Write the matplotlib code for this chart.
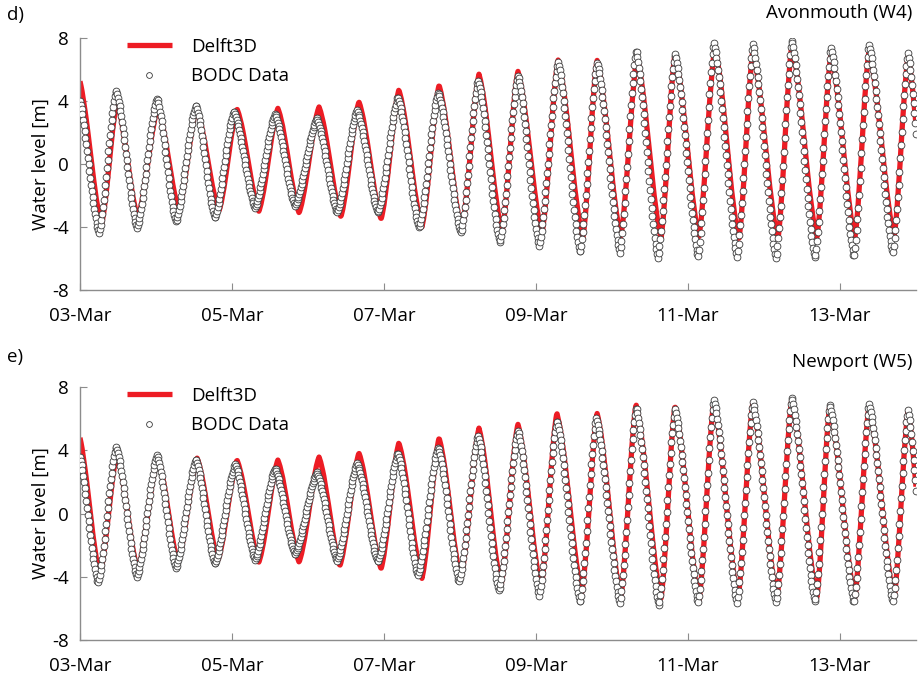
import numpy as np
import matplotlib.pyplot as plt
import matplotlib.dates as mdates

plt.rcParams['font.family'] = ['Open Sans', 'DejaVu Sans']
plt.rcParams['font.size'] = 13.5
plt.rcParams['axes.unicode_minus'] = False

# High/low water turning points, hours after 03-Mar 00:00, levels in m
avon_obs_t = [-0.6, 6.0, 11.4, 18.0, 24.3, 30.3, 36.6, 42.6, 48.6, 55.3, 61.6, 67.9,
              74.8, 81.2, 87.5, 94.1, 100.4, 107.1, 113.1, 120.3, 125.7, 132.6, 138.3,
              145.0, 151.0, 157.9, 163.3, 170.5, 175.6, 182.5, 187.9, 195.2, 200.2,
              207.5, 212.5, 219.8, 224.8, 232.1, 237.2, 244.4, 249.2, 256.7, 261.5, 267.5]
avon_obs_z = [4.5, -4.38, 4.7, -4.06, 4.19, -3.68, 3.75, -3.43, 3.37, -2.8, 3.2, -2.7,
              2.92, -3.1, 3.43, -3.1, 4.25, -4.06, 4.57, -4.38, 5.33, -5.0, 5.65,
              -5.2, 6.48, -5.65, 6.48, -5.65, 7.24, -5.97, 7.05, -5.9, 7.7,
              -5.9, 7.6, -6.0, 7.9, -6.0, 7.4, -5.9, 7.6, -5.65, 7.05, -6.0]
avon_mod_t = [-0.4, 6.8, 11.7, 18.3, 24.6, 31.3, 36.8, 43.9, 49.6, 56.5, 62.5, 69.2,
              75.5, 82.4, 88.1, 95.1, 100.7, 108.0, 113.4, 120.6, 126.0, 133.3, 138.3,
              145.9, 151.0, 158.8, 163.3, 170.8, 175.9, 183.5, 187.9, 195.5, 200.5,
              208.1, 212.5, 220.4, 224.8, 232.7, 237.2, 244.7, 249.2, 257.1, 261.5, 267.8]
avon_mod_z = [5.55, -3.85, 3.95, -3.43, 3.6, -2.92, 3.55, -2.98, 3.49, -3.0, 3.53, -3.1,
              3.62, -3.35, 3.95, -3.5, 4.7, -4.0, 5.0, -4.2, 5.7, -4.3, 5.9,
              -4.4, 6.6, -4.7, 6.6, -4.6, 6.8, -4.7, 7.0, -4.6, 7.4,
              -4.8, 7.2, -4.8, 7.55, -4.7, 7.05, -4.7, 7.2, -4.6, 6.8, -4.8]

newp_obs_t = [-0.6, 5.7, 11.4, 18.0, 24.3, 30.3, 36.6, 42.6, 49.0, 55.3, 61.6, 67.9,
              74.8, 81.2, 87.5, 94.1, 100.4, 106.7, 113.1, 119.7, 125.7, 132.3, 138.3,
              145.0, 150.6, 157.9, 163.0, 170.5, 175.6, 182.8, 187.9, 195.2, 200.2,
              207.5, 212.5, 219.8, 224.8, 232.1, 236.8, 244.4, 249.2, 256.7, 261.5, 267.2]
newp_obs_z = [4.1, -4.4, 4.27, -4.0, 3.7, -3.45, 3.45, -3.2, 3.13, -2.94, 2.88, -2.6,
              2.62, -3.0, 3.19, -3.07, 3.83, -3.9, 4.2, -4.33, 4.96, -4.9, 5.28,
              -5.2, 5.9, -5.66, 6.04, -5.66, 6.74, -5.85, 6.67, -5.66, 7.24,
              -5.66, 7.05, -5.66, 7.37, -5.6, 6.92, -5.66, 6.98, -5.6, 6.55, -5.6]
newp_mod_t = [-0.4, 6.3, 11.7, 18.3, 24.6, 31.0, 37.0, 43.6, 49.6, 56.5, 62.5, 69.2,
              75.5, 82.1, 88.1, 95.1, 100.7, 108.0, 113.4, 120.3, 126.0, 133.0, 138.3,
              145.6, 150.6, 158.5, 163.3, 170.8, 175.6, 183.5, 187.9, 195.5, 200.2,
              207.8, 212.5, 220.1, 224.8, 232.7, 236.8, 244.7, 249.2, 257.1, 261.5, 267.4]
newp_mod_z = [5.1, -3.9, 3.8, -3.6, 3.57, -3.07, 3.5, -2.94, 3.38, -3.07, 3.38, -3.07,
              3.57, -3.3, 3.83, -3.5, 4.46, -4.1, 4.77, -4.1, 5.4, -4.5, 5.66,
              -4.7, 6.35, -4.97, 6.35, -5.3, 6.9, -5.35, 6.8, -5.47, 7.1,
              -5.4, 7.0, -5.4, 7.24, -5.35, 6.86, -5.35, 6.86, -5.35, 6.48, -5.4]

tick_days = [3, 5, 7, 9, 11, 13]

start = np.datetime64('2014-03-03T00:00')
end_hours = 264.0


def tide_curve(hours, tp_t, tp_z):
    # join successive high/low waters with a half-linear, half-cosine limb
    tp_t = np.asarray(tp_t)
    tp_z = np.asarray(tp_z)
    i = np.clip(np.searchsorted(tp_t, hours) - 1, 0, len(tp_t) - 2)
    f = (hours - tp_t[i]) / (tp_t[i + 1] - tp_t[i])
    s = 0.5 * f + 0.25 * (1 - np.cos(np.pi * f))
    return tp_z[i] + (tp_z[i + 1] - tp_z[i]) * s


def to_dates(hours):
    return start + (hours * 60).astype('timedelta64[m]')


t_obs = np.arange(0, end_hours + 0.01, 0.25)   # 15-min gauge record
t_mod = np.arange(0, end_hours + 0.01, 1 / 6)  # 10-min model output

fig = plt.figure(figsize=(9.18, 6.78), dpi=100)
ax_d = fig.add_axes([0.0871, 0.5723, 0.9107, 0.3717])
ax_e = fig.add_axes([0.0871, 0.0560, 0.9107, 0.3732])

panels = [
    (ax_d, avon_mod_t, avon_mod_z, avon_obs_t, avon_obs_z, 'Avonmouth (W4)', 'd)', 1 - 15 / 678),
    (ax_e, newp_mod_t, newp_mod_z, newp_obs_t, newp_obs_z, 'Newport (W5)', 'e)', 1 - 357 / 678),
]

for ax, mt, mz, ot, oz, station, tag, tag_y in panels:
    ax.plot(to_dates(t_mod), tide_curve(t_mod, mt, mz), color='#ed1c24', lw=3.8,
            label='Delft3D', solid_capstyle='butt', zorder=2)
    ax.plot(to_dates(t_obs), tide_curve(t_obs, ot, oz), 'o', ms=4.9, mfc='white',
            mec='#3a3a3a', mew=0.6, label='BODC Data', zorder=3)

    ax.set_xlim(start, start + np.timedelta64(int(end_hours), 'h'))
    ax.set_ylim(-8, 8)
    ax.set_yticks([-8, -4, 0, 4, 8])
    ax.xaxis.set_major_locator(mdates.DayLocator(bymonthday=tick_days))
    ax.xaxis.set_major_formatter(mdates.DateFormatter('%d-%b'))
    ax.set_ylabel('Water level [m]')
    ax.yaxis.set_label_coords(-0.036, 0.5)

    for side in ['top', 'right']:
        ax.spines[side].set_visible(False)
    for side in ['left', 'bottom']:
        ax.spines[side].set_color('#8c8c8c')
        ax.spines[side].set_linewidth(1.0)
    ax.tick_params(direction='in', length=5, color='#8c8c8c')
    ax.tick_params(axis='x', pad=12)
    ax.tick_params(axis='y', pad=8)

    ax.legend(loc='upper left', bbox_to_anchor=(0.047, 1.03), frameon=False,
              handlelength=2.4, handletextpad=1.05, labelspacing=0.6,
              borderaxespad=0, markerscale=0.85)
    ax.text(0.996, 1.10, station, transform=ax.transAxes, ha='right', va='center')
    fig.text(0.008, tag_y, tag, ha='left', va='center')

plt.savefig('out.png', dpi=100)
